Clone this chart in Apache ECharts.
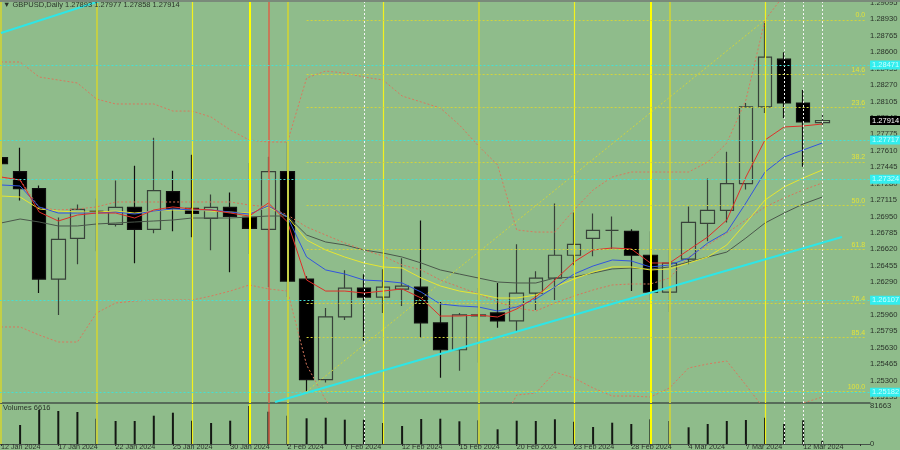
<!DOCTYPE html>
<html><head><meta charset="utf-8">
<script src="https://cdn.jsdelivr.net/npm/echarts@6/dist/echarts.min.js"></script>
<style>html,body{margin:0;padding:0;background:#8fbc8b}#c{width:900px;height:450px}</style>
</head><body><div id="c"></div>
<script>
const dates = ['12 Jan 2024','15 Jan 2024','16 Jan 2024','17 Jan 2024','18 Jan 2024','19 Jan 2024','22 Jan 2024','23 Jan 2024','24 Jan 2024','25 Jan 2024','26 Jan 2024','29 Jan 2024','30 Jan 2024','31 Jan 2024','1 Feb 2024','2 Feb 2024','5 Feb 2024','6 Feb 2024','7 Feb 2024','8 Feb 2024','9 Feb 2024','12 Feb 2024','13 Feb 2024','14 Feb 2024','15 Feb 2024','16 Feb 2024','19 Feb 2024','20 Feb 2024','21 Feb 2024','22 Feb 2024','23 Feb 2024','26 Feb 2024','27 Feb 2024','28 Feb 2024','29 Feb 2024','1 Mar 2024','4 Mar 2024','5 Mar 2024','6 Mar 2024','7 Mar 2024','8 Mar 2024','11 Mar 2024','12 Mar 2024','13 Mar 2024'];
const opens  = [1.2754,1.2740,1.2723,1.2632,1.2673,1.2700,1.2687,1.2704,1.2682,1.2720,1.2703,1.2693,1.2704,1.2694,1.2682,1.2740,1.2632,1.2531,1.2594,1.2623,1.2614,1.2622,1.2624,1.2588,1.2561,1.2595,1.2598,1.2590,1.2618,1.2633,1.2656,1.2673,1.2681,1.2680,1.2656,1.2619,1.2652,1.2688,1.2701,1.2728,1.2805,1.2853,1.2809,1.27893];
const highs  = [1.2785,1.2764,1.2726,1.2694,1.2707,1.2713,1.2731,1.2746,1.2774,1.2741,1.2757,1.2717,1.2719,1.2749,1.2755,1.2770,1.2635,1.2603,1.2641,1.2637,1.2642,1.2653,1.2691,1.2609,1.2598,1.2623,1.2628,1.2667,1.2640,1.2708,1.2699,1.2698,1.2695,1.2682,1.2680,1.2663,1.2705,1.2733,1.2760,1.2809,1.28924,1.2860,1.2822,1.27977];
const lows   = [1.2741,1.2711,1.2618,1.2596,1.2647,1.2660,1.2685,1.2648,1.2678,1.2680,1.2674,1.2661,1.2639,1.2657,1.2624,1.2614,1.25192,1.2528,1.2591,1.2570,1.2598,1.2605,1.2573,1.2533,1.2540,1.2548,1.2583,1.2579,1.2601,1.2611,1.2646,1.2655,1.2662,1.2620,1.2611,1.2599,1.2647,1.2670,1.2689,1.2722,1.2799,1.2794,1.2745,1.27858];
const closes = [1.2748,1.2723,1.2632,1.2672,1.2702,1.2700,1.2704,1.2682,1.2721,1.2703,1.2698,1.2704,1.2695,1.2683,1.2740,1.2630,1.2531,1.2594,1.2623,1.2614,1.2624,1.2625,1.2588,1.2561,1.2596,1.2596,1.2590,1.2618,1.2633,1.2656,1.2667,1.2681,1.2681,1.2656,1.2619,1.2648,1.2689,1.2701,1.2728,1.2805,1.2855,1.2809,1.2790,1.27914];
const volumes = [64471,40832,73067,70917,68769,54370,49428,49428,60818,67265,50073,45130,50073,81663,69414,60818,55230,56520,52221,52221,45130,38683,53726,54370,48784,50933,31591,50073,49428,53081,47924,36534,45775,42981,53081,49428,35889,42981,49428,51577,56520,42981,50933,6616];

const maRed    = [1.27346,1.27316,1.26994,1.26904,1.26964,1.26984,1.26984,1.26934,1.27015,1.27045,1.27025,1.27015,1.26984,1.26954,1.27085,1.26894,1.26311,1.26200,1.26200,1.26180,1.26200,1.26221,1.26130,1.25949,1.25949,1.25959,1.25939,1.26020,1.26140,1.26311,1.26492,1.26613,1.26633,1.26623,1.26482,1.26482,1.26613,1.26743,1.26914,1.27346,1.27718,1.27849,1.27859,1.27879];
const maBlue   = [1.27266,1.27256,1.27045,1.26984,1.26984,1.26984,1.26994,1.26974,1.27004,1.27025,1.27015,1.27015,1.26994,1.26974,1.27055,1.26944,1.26542,1.26412,1.26371,1.26311,1.26301,1.26281,1.26190,1.26070,1.26050,1.26040,1.25999,1.26040,1.26120,1.26241,1.26371,1.26452,1.26512,1.26502,1.26442,1.26462,1.26532,1.26683,1.26793,1.27085,1.27396,1.27547,1.27618,1.27688];
const maYellow = [1.27155,1.27145,1.27025,1.27004,1.26994,1.26994,1.27004,1.26984,1.27004,1.27015,1.27015,1.27004,1.26994,1.26984,1.27045,1.26944,1.26713,1.26613,1.26542,1.26482,1.26442,1.26432,1.26331,1.26251,1.26200,1.26170,1.26130,1.26130,1.26160,1.26241,1.26321,1.26391,1.26442,1.26442,1.26412,1.26422,1.26482,1.26542,1.26663,1.26884,1.27115,1.27246,1.27336,1.27417];
const maGray   = [1.26884,1.26924,1.26894,1.26854,1.26854,1.26874,1.26884,1.26894,1.26904,1.26914,1.26934,1.26934,1.26934,1.26944,1.26954,1.26954,1.26763,1.26693,1.26663,1.26613,1.26582,1.26542,1.26482,1.26412,1.26371,1.26331,1.26291,1.26281,1.26281,1.26331,1.26341,1.26381,1.26422,1.26432,1.26422,1.26442,1.26492,1.26542,1.26592,1.26733,1.26884,1.26984,1.27075,1.27145];
const maDotted = [1.27346,1.27316,1.27035,1.27015,1.27025,1.27045,1.27095,1.27095,1.27095,1.27095,1.27095,1.27095,1.27095,1.27065,1.27045,1.26964,1.26844,1.26763,1.26683,1.26613,1.26552,1.26462,1.26412,1.26311,1.26241,1.26170,1.26090,1.26030,1.25999,1.26080,1.26150,1.26211,1.26261,1.26271,1.26271,1.26331,1.26542,1.26663,1.26783,1.26914,1.27045,1.27135,1.27216,1.27286];
const bandUpper = [1.28502,1.28502,1.28351,1.28321,1.28291,1.28130,1.28080,1.28080,1.28080,1.28009,1.28009,1.27949,1.27819,1.27718,1.27698,1.27698,1.28341,1.28411,1.28391,1.28351,1.28321,1.28160,1.28100,1.28040,1.27869,1.27658,1.27467,1.26814,1.26793,1.26793,1.27015,1.27216,1.27346,1.27396,1.27396,1.27396,1.27396,1.27497,1.27688,1.28120,1.28924,1.29175,1.29276,1.29326];
const bandLower = [1.25839,1.25839,1.25758,1.25688,1.25688,1.25979,1.26080,1.26100,1.26110,1.26110,1.26110,1.26150,1.26200,1.26261,1.26221,1.26200,1.25457,1.25105,1.24854,1.24703,1.24603,1.24552,1.24552,1.24603,1.24653,1.24653,1.24803,1.25155,1.25175,1.25386,1.25326,1.25226,1.25145,1.25145,1.25135,1.25226,1.25427,1.25467,1.25497,1.25256,1.25005,1.24984,1.25075,1.25135];

const priceTicks = [1.25135,1.25300,1.25465,1.25630,1.25795,1.25960,1.26125,1.26290,1.26455,1.26620,1.26785,1.26950,1.27115,1.27280,1.27445,1.27610,1.27775,1.27940,1.28105,1.28270,1.28435,1.28600,1.28765,1.28930,1.29095];
const volumeTicks = [0,81663];
const levelLines = [1.28471,1.27717,1.27324,1.26107,1.25182];
const fibPct = ['0.0','14.6','23.6','38.2','50.0','61.8','76.4','85.4','100.0'];
const fibPrice = [1.28924,1.28379,1.28043,1.27498,1.27058,1.26618,1.26073,1.25737,1.25192];
const oliveBars = [0,5,15,25,35], yellowBars = [10,20,30,40], brightBars = [13,34], redBars = [14], whiteBars = [19,41,42,43];
const trendUpper = [[0,1.28793],[5.25,1.29120]];
const trendLower = [[14.35,1.25085],[44.03,1.26743]];
const fibAnchor = [[16,1.25192],[40,1.28924]];

const BG = '#8fbc8b', FONT = 'Liberation Sans';
const candles = opens.map((o,i)=>[o, closes[i], lows[i], highs[i]]);
const last = dates.length - 1;

function vlines(){
  const mk = (arr,color,width,type)=>arr.map(i=>({xAxis:i,lineStyle:{color,width,type}}));
  return [].concat(mk(oliveBars,'#c3cf46',2,'solid'), mk(yellowBars,'#f2f21e',1.2,'solid'),
    mk(brightBars,'#ffff00',2,'solid'), mk(redBars,'#d8654a',1.5,'solid'), mk(whiteBars,'#f4f4f4',1,[2,2]));
}
function line(name,data,color,type,w){
  return {name,type:'line',xAxisIndex:0,yAxisIndex:0,data,symbol:'none',z:3,silent:true,
    lineStyle:{color,width:w||1,type:type||'solid'}};
}
const chart = echarts.init(document.getElementById('c'));
chart.setOption({
  animation:false, backgroundColor:BG,
  textStyle:{fontFamily:FONT},
  title:[
    {text:'▼ GBPUSD,Daily '+[opens[last],highs[last],lows[last],closes[last]].map(v=>v.toFixed(5)).join(' '),
     left:3,top:1,padding:0,textStyle:{fontSize:7.5,fontWeight:'normal',color:'#2a332a',fontFamily:FONT}},
    {text:'Volumes '+volumes[last],left:3,top:404,padding:0,textStyle:{fontSize:7.5,fontWeight:'normal',color:'#2a332a',fontFamily:FONT}}
  ],
  graphic:[{type:'rect',shape:{x:0,y:0,width:900,height:2},style:{fill:'#7a8a7a'},z:100}],
  grid:[
    {left:-8.55,top:0,width:878.6,height:403,outerBoundsMode:'none',containLabel:false},
    {left:-8.55,top:404,width:878.6,height:40,outerBoundsMode:'none',containLabel:false}
  ],
  xAxis:[
    {type:'category',gridIndex:0,data:dates,max:45,axisLabel:{show:false},axisTick:{show:false},
     axisLine:{lineStyle:{color:'#46524a',width:1.5}},splitLine:{show:false}},
    {type:'category',gridIndex:1,data:dates,max:45,
     axisLabel:{interval:2,align:'left',fontSize:7.2,color:'#2a332a',margin:0,fontFamily:FONT},
     axisTick:{show:true,interval:2,alignWithLabel:true,length:2,lineStyle:{color:'#333'}},
     axisLine:{lineStyle:{color:'#46524a',width:1}},splitLine:{show:false}},
    {type:'value',gridIndex:0,min:-0.5,max:45.5,show:false},
    {type:'value',gridIndex:1,min:-0.5,max:45.5,show:false}
  ],
  yAxis:[
    {type:'value',gridIndex:0,position:'right',offset:-3,min:1.25075,max:1.29125,scale:true,
     axisLine:{show:true,lineStyle:{color:'#3a423a',width:1}},splitLine:{show:false},
     axisTick:{show:false,customValues:priceTicks},
     axisLabel:{customValues:priceTicks,formatter:v=>v.toFixed(5),fontSize:7.6,color:'#2a332a',margin:3,fontFamily:FONT}},
    {type:'value',gridIndex:1,position:'right',offset:-3,min:0,max:85961,
     axisLine:{show:true,lineStyle:{color:'#3a423a',width:1}},splitLine:{show:false},
     axisTick:{show:false,customValues:volumeTicks},
     axisLabel:{customValues:volumeTicks,formatter:v=>String(v),fontSize:7.6,color:'#2a332a',margin:3,fontFamily:FONT}}
  ],
  series:[
    {type:'line',xAxisIndex:2,yAxisIndex:0,data:[],z:1,silent:true,
     markLine:{symbol:'none',silent:true,animation:false,precision:5,
       data:[].concat(vlines(),
         levelLines.map(p=>({yAxis:p,lineStyle:{color:'#44e0d4',width:1,type:[2,2]},
           label:{show:true,position:'end',distance:0,formatter:p.toFixed(5),backgroundColor:'#33eeee',
             color:'#c8ffff',fontSize:7.5,padding:[1,3,0,2],fontFamily:FONT}})),
         fibPrice.map((p,k)=>[{coord:[16,p],lineStyle:{color:'#d2d43c',width:1,type:[2,2]},
           label:{show:true,position:'insideEndTop',distance:1,formatter:fibPct[k],color:'#e2e23a',fontSize:7,fontFamily:FONT}},
           {coord:[45.3,p]}]))
       ,label:{show:false}}},
    {type:'candlestick',xAxisIndex:0,yAxisIndex:0,data:candles,barWidth:14,z:2,silent:true,
     itemStyle:{color:BG,color0:'#000000',borderColor:'#38423a',borderColor0:'#101010',borderWidth:1.2}},
    line('gray',maGray,'#4b574b'),
    line('dotted',maDotted,'#d8745a',[2,2]),
    line('yellow',maYellow,'#e6e632'),
    line('blue',maBlue,'#3355dd'),
    line('red',maRed,'#e0302a'),
    line('upper',bandUpper,'#d8785e',[2,2]),
    line('lower',bandLower,'#d8785e',[2,2]),
    {type:'line',xAxisIndex:2,yAxisIndex:0,data:[],z:4,silent:true,
     markLine:{symbol:'none',silent:true,precision:5,label:{show:false},
       data:[
         [{coord:trendUpper[0],lineStyle:{color:'#2ee6e6',width:2,type:'solid'}},{coord:trendUpper[1]}],
         [{coord:trendLower[0],lineStyle:{color:'#2ee6e6',width:2,type:'solid'}},{coord:trendLower[1]}],
         [{coord:fibAnchor[0],lineStyle:{color:'#d2d43c',width:1,type:[2,2]}},{coord:fibAnchor[1]}]
       ]}},
    {type:'line',xAxisIndex:2,yAxisIndex:0,data:[],z:6,silent:true,
     markLine:{symbol:'none',silent:true,precision:5,
       data:[{yAxis:closes[last],lineStyle:{color:'rgba(0,0,0,0)',width:0},
          label:{show:true,position:'end',distance:0,formatter:closes[last].toFixed(5),backgroundColor:'#000000',
            color:'#ffffff',fontSize:7.5,padding:[1,3,0,2],fontFamily:FONT}}]}},
    {type:'bar',xAxisIndex:1,yAxisIndex:1,data:volumes,barWidth:2,z:2,silent:true,itemStyle:{color:'#141814'}},
    {type:'line',xAxisIndex:3,yAxisIndex:1,data:[],z:1,silent:true,
     markLine:{symbol:'none',silent:true,label:{show:false},data:vlines()}}
  ]
});
</script></body></html>
